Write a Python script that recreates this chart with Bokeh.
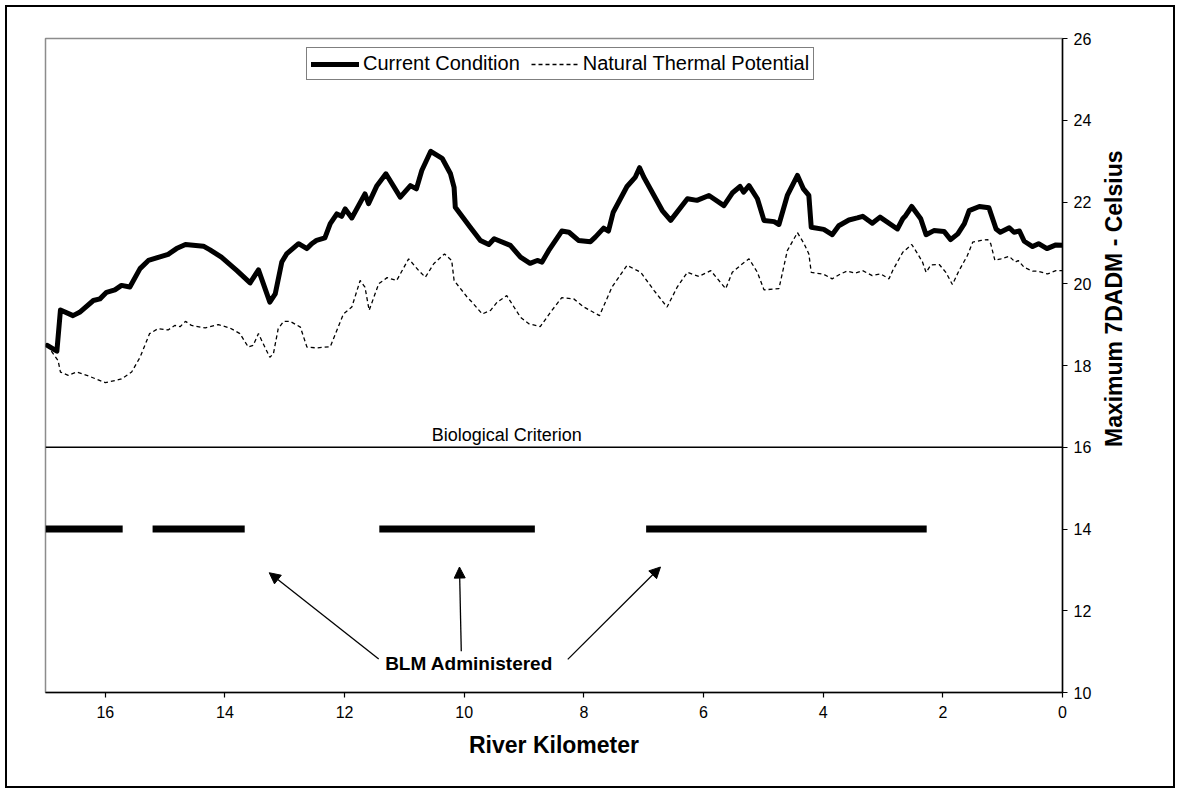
import math
from bokeh.plotting import figure
from bokeh.layouts import row
from bokeh.models import (Range1d, FixedTicker, Span, Label, Arrow, NormalHead,
                          Legend, LegendItem)
from bokeh.embed import file_html
from bokeh.resources import INLINE

# ---------------- data ----------------
current_km = [16.97, 16.81, 16.75, 16.54, 16.43, 16.20, 16.09, 15.98, 15.84, 15.73,
              15.59, 15.42, 15.28, 14.95, 14.81, 14.66, 14.36, 14.25, 14.06, 13.80,
              13.58, 13.44, 13.25, 13.16, 13.05, 12.97, 12.77, 12.63, 12.55, 12.47,
              12.33, 12.24, 12.13, 12.05, 11.99, 11.88, 11.66, 11.60, 11.46, 11.31,
              11.07, 10.90, 10.80, 10.71, 10.56, 10.37, 10.23, 10.17, 10.15, 9.90,
              9.73, 9.59, 9.50, 9.23, 9.06, 8.90, 8.78, 8.70, 8.59, 8.37,
              8.25, 8.09, 7.89, 7.81, 7.67, 7.59, 7.51, 7.28, 7.14, 7.07,
              7.00, 6.69, 6.55, 6.27, 6.11, 5.91, 5.66, 5.52, 5.39, 5.33,
              5.24, 5.10, 4.99, 4.82, 4.74, 4.60, 4.43, 4.33, 4.24, 4.20,
              3.99, 3.85, 3.74, 3.57, 3.43, 3.34, 3.18, 3.05, 2.76, 2.67,
              2.62, 2.52, 2.37, 2.28, 2.15, 1.98, 1.87, 1.75, 1.64, 1.56,
              1.39, 1.23, 1.11, 1.04, 0.89, 0.81, 0.72, 0.64, 0.50, 0.40,
              0.26, 0.11, 0.00]
current_val = [18.49, 18.35, 19.36, 19.22, 19.30, 19.59, 19.63, 19.79, 19.85, 19.96,
               19.92, 20.37, 20.57, 20.72, 20.86, 20.96, 20.92, 20.83, 20.65, 20.32,
               20.02, 20.34, 19.55, 19.75, 20.53, 20.73, 20.98, 20.86, 20.98, 21.06,
               21.12, 21.47, 21.71, 21.65, 21.83, 21.61, 22.20, 21.96, 22.40, 22.69,
               22.12, 22.40, 22.32, 22.77, 23.24, 23.07, 22.69, 22.36, 21.87, 21.38,
               21.06, 20.96, 21.10, 20.94, 20.65, 20.50, 20.57, 20.53, 20.81, 21.29,
               21.26, 21.06, 21.03, 21.14, 21.36, 21.29, 21.75, 22.38, 22.61, 22.84,
               22.61, 21.79, 21.55, 22.08, 22.04, 22.16, 21.91, 22.22, 22.38, 22.24,
               22.40, 22.08, 21.55, 21.52, 21.45, 22.16, 22.65, 22.32, 22.16, 21.38,
               21.33, 21.20, 21.42, 21.56, 21.61, 21.65, 21.48, 21.63, 21.34, 21.59,
               21.67, 21.89, 21.59, 21.20, 21.30, 21.28, 21.08, 21.22, 21.47, 21.79,
               21.89, 21.86, 21.34, 21.26, 21.37, 21.26, 21.29, 21.04, 20.91, 20.98,
               20.86, 20.95, 20.94]

natural_km = [16.97, 16.79, 16.75, 16.62, 16.48, 16.31, 16.00, 15.73, 15.56, 15.42,
              15.26, 15.12, 14.95, 14.84, 14.75, 14.66, 14.56, 14.33, 14.11, 13.92,
              13.75, 13.61, 13.53, 13.44, 13.36, 13.25, 13.19, 13.11, 13.02, 12.91,
              12.74, 12.63, 12.47, 12.24, 12.02, 11.88, 11.74, 11.66, 11.59, 11.43,
              11.29, 11.13, 10.93, 10.76, 10.65, 10.51, 10.33, 10.21, 10.17, 9.95,
              9.87, 9.70, 9.56, 9.45, 9.29, 9.06, 8.92, 8.73, 8.56, 8.37,
              8.17, 8.00, 7.74, 7.53, 7.28, 7.05, 6.83, 6.61, 6.44, 6.27,
              6.08, 5.88, 5.63, 5.52, 5.35, 5.24, 5.10, 4.99, 4.74, 4.60,
              4.43, 4.32, 4.24, 4.20, 3.99, 3.85, 3.71, 3.60, 3.46, 3.34,
              3.18, 3.04, 2.90, 2.84, 2.67, 2.52, 2.42, 2.34, 2.28, 2.20,
              2.06, 1.95, 1.84, 1.73, 1.59, 1.50, 1.36, 1.25, 1.20, 1.13,
              1.03, 0.89, 0.79, 0.74, 0.64, 0.50, 0.42, 0.25, 0.11, 0.00]
natural_val = [18.49, 18.12, 17.84, 17.76, 17.84, 17.76, 17.58, 17.67, 17.84, 18.20,
               18.78, 18.90, 18.87, 18.98, 18.95, 19.08, 18.98, 18.92, 19.00, 18.92,
               18.78, 18.45, 18.49, 18.78, 18.53, 18.20, 18.29, 18.90, 19.08, 19.08,
               18.94, 18.45, 18.43, 18.46, 19.26, 19.43, 20.08, 19.92, 19.35, 20.00,
               20.15, 20.08, 20.61, 20.32, 20.16, 20.49, 20.73, 20.57, 20.08, 19.67,
               19.55, 19.26, 19.35, 19.55, 19.71, 19.18, 19.02, 18.95, 19.30, 19.66,
               19.63, 19.43, 19.22, 19.92, 20.45, 20.28, 19.84, 19.43, 19.92, 20.28,
               20.18, 20.32, 19.88, 20.28, 20.49, 20.61, 20.28, 19.85, 19.88, 20.81,
               21.25, 20.98, 20.73, 20.28, 20.23, 20.12, 20.24, 20.31, 20.26, 20.32,
               20.20, 20.24, 20.12, 20.32, 20.77, 20.96, 20.73, 20.53, 20.28, 20.46,
               20.47, 20.28, 19.98, 20.32, 20.69, 21.02, 21.06, 21.08, 20.98, 20.57,
               20.61, 20.67, 20.53, 20.57, 20.40, 20.31, 20.31, 20.24, 20.32, 20.32]

criterion = 16
blm_start = [17.0, 15.21, 11.42, 6.96]
blm_end = [15.71, 13.67, 8.82, 2.27]
blm_level = 14

arrow_tail_x = [11.43, 10.05, 8.27]
arrow_tail_y = [10.82, 11.01, 10.81]
arrow_tip_x = [13.26, 10.08, 6.72]
arrow_tip_y = [12.93, 13.07, 13.07]

x_ticks = [0, 2, 4, 6, 8, 10, 12, 14, 16]
y_ticks = [10, 12, 14, 16, 18, 20, 22, 24, 26]

FONT = "Liberation Sans"
H = 779

# ---------------- main figure ----------------
p = figure(width=1095, height=H,
           x_range=Range1d(17.0, 0), y_range=Range1d(10, 26),
           y_axis_location="right",
           output_backend="svg", toolbar_location=None,
           min_border_left=38, min_border_top=31,
           min_border_right=40, min_border_bottom=94)

p.background_fill_color = "white"
p.border_fill_color = "white"
p.outline_line_color = "#8c8c8c"
p.outline_line_width = 1.5
p.xgrid.grid_line_color = None
p.ygrid.grid_line_color = None

for ax in (p.xaxis[0], p.yaxis[0]):
    ax.axis_line_color = "black"
    ax.axis_line_width = 1.5
    ax.major_tick_line_color = "black"
    ax.major_tick_line_width = 1.2
    ax.major_tick_in = 0
    ax.major_tick_out = 5
    ax.minor_tick_line_color = None
    ax.major_label_text_font = FONT
    ax.major_label_text_font_size = "16px"
    ax.major_label_text_color = "black"
    ax.axis_label_text_font = FONT
    ax.axis_label_text_font_size = "23px"
    ax.axis_label_text_font_style = "bold"
    ax.axis_label_text_color = "black"

p.xaxis.ticker = FixedTicker(ticks=x_ticks)
p.yaxis.ticker = FixedTicker(ticks=y_ticks)
p.xaxis.axis_label = "River Kilometer"
p.xaxis.major_label_standoff = 8
p.xaxis.axis_label_standoff = 11
p.yaxis.major_label_standoff = 6

# criterion line
p.add_layout(Span(location=criterion, dimension="width", line_color="black", line_width=1.3))
p.add_layout(Label(x=9.29, y=16.31, text="Biological Criterion", text_align="center",
                   text_baseline="middle", text_font=FONT, text_font_size="18px",
                   text_color="black"))

# BLM bars
p.segment(x0=blm_start, y0=[blm_level] * len(blm_start), x1=blm_end,
          y1=[blm_level] * len(blm_end), line_color="black", line_width=7,
          line_cap="butt")

# curves
r1 = p.line(current_km, current_val, line_color="black", line_width=5,
            line_join="round", line_cap="round")
r2 = p.line(natural_km, natural_val, line_color="black", line_width=1.3,
            line_dash="4 3")

# arrows
for xs, ys, xe, ye in zip(arrow_tail_x, arrow_tail_y, arrow_tip_x, arrow_tip_y):
    p.add_layout(Arrow(end=NormalHead(size=11, fill_color="black", line_color="black"),
                       x_start=xs, y_start=ys, x_end=xe, y_end=ye,
                       line_color="black", line_width=1.3))

p.add_layout(Label(x=9.92, y=10.71, text="BLM Administered", text_align="center",
                   text_baseline="middle", text_font=FONT, text_font_size="19px",
                   text_font_style="bold", text_color="black"))

legend = Legend(items=[LegendItem(label="Current Condition", renderers=[r1]),
                       LegendItem(label="Natural Thermal Potential", renderers=[r2])],
                location=(261, 612), orientation="horizontal",
                border_line_color="black", border_line_width=1,
                background_fill_color="white", background_fill_alpha=1,
                padding=4, spacing=11, label_standoff=4, glyph_width=48,
                glyph_height=20, label_text_font=FONT, label_text_font_size="20px",
                label_text_color="black", margin=0)
p.add_layout(legend)

# ---------------- narrow strip holding the y-axis title ----------------
q = figure(width=71, height=H, x_range=Range1d(0, 71), y_range=Range1d(0, H),
           output_backend="svg", toolbar_location=None, min_border=0)
q.axis.visible = False
q.grid.visible = False
q.outline_line_color = None
q.background_fill_color = "white"
q.border_fill_color = "white"
q.add_layout(Label(x=11, y=H - 310, text="Maximum 7DADM - Celsius", angle=math.pi / 2,
                   text_align="center", text_baseline="middle", text_font=FONT,
                   text_font_size="23px", text_font_style="bold", text_color="black"))

layout = row(p, q, spacing=0)
layout.styles = {"margin-left": "5px", "margin-top": "5px", "border": "2px solid black",
                 "background-color": "white"}

open("out.html", "w").write(file_html(layout, INLINE))
